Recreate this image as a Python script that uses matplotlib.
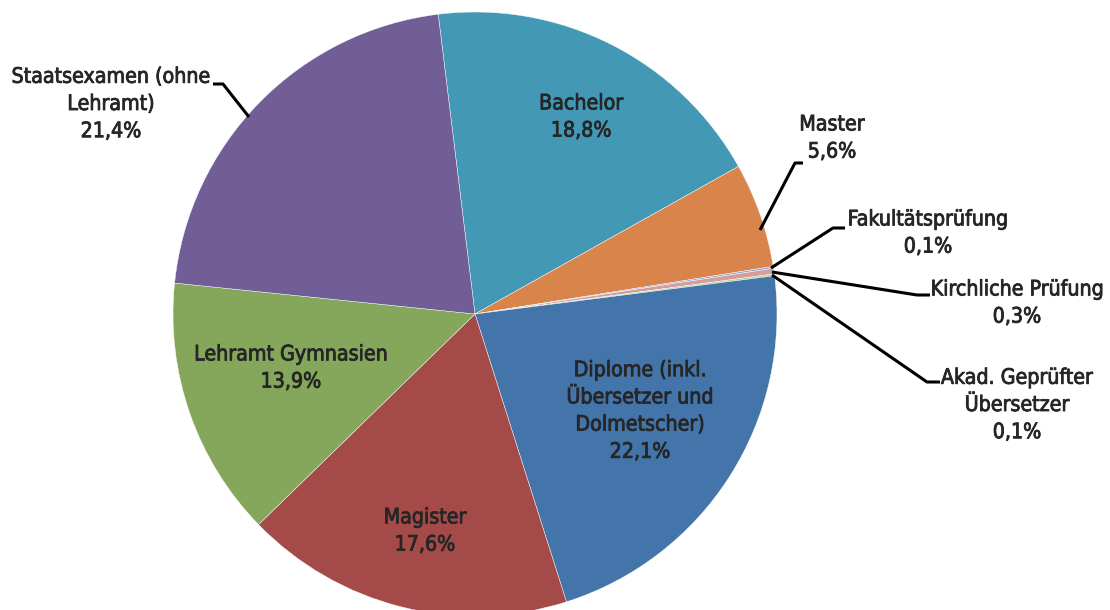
import matplotlib
matplotlib.use("Agg")
import matplotlib.pyplot as plt
import matplotlib.patheffects as pe

categories = ["Bachelor", "Master", "Fakultätsprüfung", "Kirchliche Prüfung",
              "Akad. Geprüfter Übersetzer", "Diplome (inkl. Übersetzer und Dolmetscher)",
              "Magister", "Lehramt Gymnasien", "Staatsexamen (ohne Lehramt)"]
values = [18.8, 5.6, 0.1, 0.3, 0.1, 22.1, 17.6, 13.9, 21.4]
label_texts = ["Bachelor", "Master", "Fakultätsprüfung", "Kirchliche Prüfung",
               "Akad. Geprüfter\nÜbersetzer", "Diplome (inkl.\nÜbersetzer und\nDolmetscher)",
               "Magister", "Lehramt Gymnasien", "Staatsexamen (ohne\nLehramt)"]
pct_texts = ["18,8%", "5,6%", "0,1%", "0,3%", "0,1%", "22,1%", "17,6%", "13,9%", "21,4%"]
colors = ["#4399B5", "#D9844A", "#8FA8D6", "#D79C9C", "#B7D190",
          "#4375AB", "#A44B49", "#84A75B", "#715E97"]

W, H = 1110, 610
fig = plt.figure(figsize=(W / 100, H / 100), dpi=100)
ax = fig.add_axes([0, 0, 1, 1])

cx, cy, r = 475, H - 314, 302
ax.pie(values, colors=colors, startangle=97, counterclock=False,
       center=(cx, cy), radius=r,
       wedgeprops=dict(edgecolor="white", linewidth=0.3))
ax.set_xlim(0, W)
ax.set_ylim(0, H)
ax.set_aspect("auto")
ax.axis("off")

font = dict(family=["DejaVu Sans"], fontstretch="condensed", fontsize=15.3,
            color="#262626", ha="center", va="center", linespacing=1.45,
            path_effects=[pe.withStroke(linewidth=0.6, foreground="#262626")])

# label centres (pixel coords from top)
label_pos = [(581, 117), (832, 138), (928, 233), (1017, 303), (1017, 405),
             (640, 411), (425, 531), (291, 368), (111, 104)]
for txt, pct, (x, y) in zip(label_texts, pct_texts, label_pos):
    ax.text(x, H - y, txt + "\n" + pct, **font)

# leader lines (pixel coords from top)
leaders = [
    [(760, 230), (795, 163), (803, 163)],
    [(771, 268), (833, 228), (845, 228)],
    [(772, 272), (917, 295), (930, 295)],
    [(772, 275), (927, 382), (940, 382)],
    [(249, 117), (223, 84), (213, 84)],
]
for pts in leaders:
    xs = [p[0] for p in pts]
    ys = [H - p[1] for p in pts]
    ax.plot(xs, ys, color="black", linewidth=2.2, solid_capstyle="butt")

fig.savefig("out.png", dpi=100)
